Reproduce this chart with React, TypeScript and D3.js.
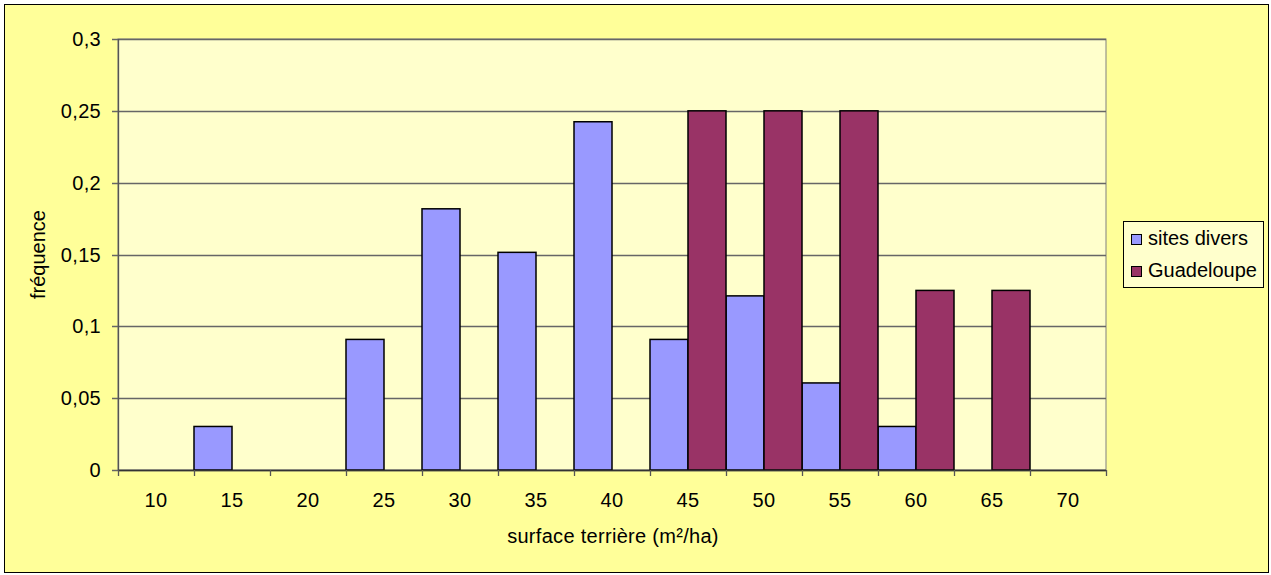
import * as d3 from "d3";
import { useEffect } from "react";

// surface terrière classes (m²/ha)
const categories = ["10", "15", "20", "25", "30", "35", "40", "45", "50", "55", "60", "65", "70"];
const sitesDivers = [0, 0.0303, 0, 0.0909, 0.1818, 0.1515, 0.2424, 0.0909, 0.1212, 0.0606, 0.0303, 0, 0];
const guadeloupe = [0, 0, 0, 0, 0, 0, 0, 0.25, 0.25, 0.25, 0.125, 0.125, 0];
const yTicks = [0, 0.05, 0.1, 0.15, 0.2, 0.25, 0.3];
const seriesNames = ["sites divers", "Guadeloupe"];
const seriesColors = ["#9999FF", "#993366"];

const W = 1271;
const H = 575;
const plot = { left: 118, right: 1106, top: 39, bottom: 470 };
const font = "'Liberation Sans', Arial, sans-serif";
const fs = 20;

export default function App() {
  useEffect(() => {
    document.body.style.margin = "0";
  }, []);

  const x = d3.scaleBand().domain(categories).range([plot.left, plot.right]).padding(0);
  const x1 = d3.scaleBand().domain(seriesNames).range([0, x.bandwidth()]).padding(0);
  const y = d3.scaleLinear().domain([0, 0.3]).range([plot.bottom, plot.top]);
  const fmt = (v: number) => String(+v.toFixed(2)).replace(".", ",");
  const series = [sitesDivers, guadeloupe];

  return (
    <svg width={W} height={H} style={{ display: "block", fontFamily: font }}>
      <rect x={4.5} y={4.5} width={1264} height={568} fill="#FFFF99" stroke="#000" strokeWidth={1} />
      <rect x={plot.left} y={plot.top} width={plot.right - plot.left} height={plot.bottom - plot.top} fill="#FFFFCC" stroke="#808080" strokeWidth={1} />

      {/* gridlines + y ticks */}
      {yTicks.map((t) => (
        <g key={t}>
          <line x1={plot.left - 6} x2={plot.right} y1={Math.round(y(t)) + 0.5} y2={Math.round(y(t)) + 0.5} stroke="#666" strokeWidth={1.3} />
          <text x={101} y={y(t)} dy="0.35em" textAnchor="end" fontSize={fs} letterSpacing={0.3} fill="#000">
            {fmt(t)}
          </text>
        </g>
      ))}

      {/* bars */}
      {series.map((vals, si) =>
        categories.map((c, i) =>
          vals[i] > 0 ? (
            <rect
              key={`${si}-${c}`}
              x={(x(c) ?? 0) + (x1(seriesNames[si]) ?? 0)}
              y={y(vals[i])}
              width={x1.bandwidth()}
              height={plot.bottom - y(vals[i])}
              fill={seriesColors[si]}
              stroke="#000"
              strokeWidth={1.5}
            />
          ) : null
        )
      )}

      {/* axes */}
      <line x1={plot.left + 0.5} x2={plot.left + 0.5} y1={plot.top} y2={plot.bottom} stroke="#555" strokeWidth={1.3} />
      <line x1={plot.left} x2={plot.right} y1={plot.bottom + 0.5} y2={plot.bottom + 0.5} stroke="#333" strokeWidth={1.5} />
      {categories.concat(["end"]).map((c, i) => {
        const px = plot.left + i * x.bandwidth();
        return <line key={`t${i}`} x1={px + 0.5} x2={px + 0.5} y1={plot.bottom} y2={plot.bottom + 6} stroke="#555" strokeWidth={1.3} />;
      })}
      {categories.map((c) => (
        <text key={`l${c}`} x={(x(c) ?? 0) + x.bandwidth() / 2} y={507} textAnchor="middle" fontSize={fs} letterSpacing={0.3} fill="#000">
          {c}
        </text>
      ))}

      {/* axis titles */}
      <text x={613} y={543} textAnchor="middle" fontSize={fs} letterSpacing={0.3} fill="#000">
        surface terrière (m²/ha)
      </text>
      <text transform={`translate(45,${(plot.top + plot.bottom) / 2}) rotate(-90)`} textAnchor="middle" fontSize={fs} fill="#000">
        fréquence
      </text>

      {/* legend */}
      <rect x={1123.5} y={221.5} width={140} height={66} fill="#FFFFCC" stroke="#000" strokeWidth={1} />
      {seriesNames.map((n, i) => (
        <g key={n}>
          <rect x={1131.5} y={234.5 + i * 32} width={10} height={10} fill={seriesColors[i]} stroke="#000" strokeWidth={1} />
          <text x={1148} y={245 + i * 32} fontSize={fs} fill="#000">
            {n}
          </text>
        </g>
      ))}
    </svg>
  );
}
